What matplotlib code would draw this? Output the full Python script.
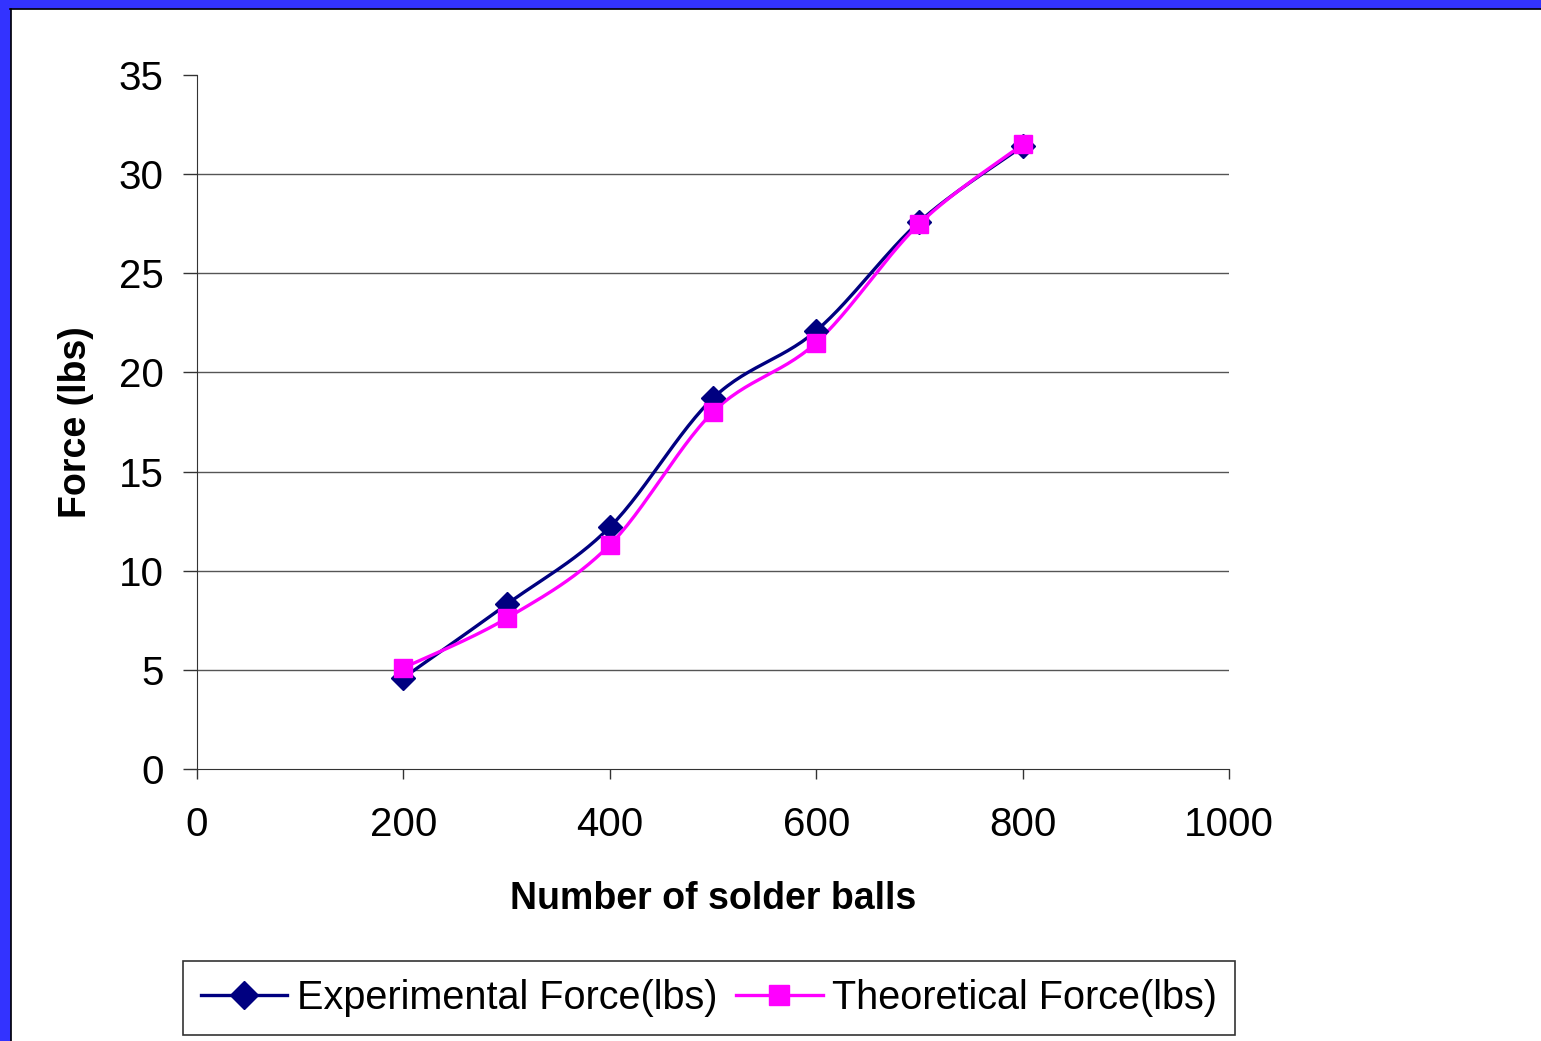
import numpy as np
import matplotlib.pyplot as plt
from matplotlib.patches import Rectangle

plt.rcParams['font.family'] = ['Liberation Sans', 'DejaVu Sans']

balls = [200, 300, 400, 500, 600, 700, 800]
experimental = [4.6, 8.3, 12.2, 18.7, 22.1, 27.6, 31.4]
theoretical = [5.1, 7.6, 11.3, 18.0, 21.5, 27.5, 31.5]


def smooth(x, y, n=30):
    """Excel-style smoothed line (Bezier through the points)."""
    p = np.column_stack([x, y]).astype(float)
    pts = [p[0]]
    for i in range(len(p) - 1):
        p0 = p[i - 1] if i > 0 else p[i]
        p3 = p[i + 2] if i + 2 < len(p) else p[i + 1]
        c1 = p[i] + (p[i + 1] - p0) / 6
        c2 = p[i + 1] - (p3 - p[i]) / 6
        t = np.linspace(0, 1, n)[1:, None]
        seg = ((1 - t) ** 3 * p[i] + 3 * (1 - t) ** 2 * t * c1
               + 3 * (1 - t) * t ** 2 * c2 + t ** 3 * p[i + 1])
        pts.extend(seg)
    pts = np.array(pts)
    return pts[:, 0], pts[:, 1]


fig = plt.figure(figsize=(15.41, 10.41), dpi=100)
# blue frame on top and left
fig.patches.append(Rectangle((0, 1 - 8 / 1041), 1, 8 / 1041, transform=fig.transFigure,
                             color='#3333ff', zorder=0))
fig.patches.append(Rectangle((0, 0), 10 / 1541, 1, transform=fig.transFigure,
                             color='#3333ff', zorder=0))
fig.add_artist(plt.Line2D([10 / 1541, 1], [1 - 9 / 1041, 1 - 9 / 1041],
                          transform=fig.transFigure, color='black', lw=1.2))
fig.add_artist(plt.Line2D([11 / 1541, 11 / 1541], [0, 1 - 9 / 1041],
                          transform=fig.transFigure, color='black', lw=1.2))

ax = fig.add_axes([197 / 1541, 1 - 769 / 1041, 1032 / 1541, 694 / 1041])

sx, sy = smooth(balls, experimental)
ax.plot(sx, sy, color='#000080', lw=2.4, zorder=3)
ax.plot(balls, experimental, ls='none', marker='D', color='#000080', ms=12, zorder=4)
tx, ty = smooth(balls, theoretical)
ax.plot(tx, ty, color='#ff00ff', lw=2.4, zorder=3)
ax.plot(balls, theoretical, ls='none', marker='s', color='#ff00ff', ms=13, zorder=5)

ax.set_xlim(0, 1000)
ax.set_ylim(0, 35)
ax.set_xticks(range(0, 1001, 200))
ax.set_yticks(range(0, 36, 5))
for v in range(5, 35, 5):
    ax.axhline(v, color='#555555', lw=1.0, zorder=1)

ax.spines['top'].set_visible(False)
ax.spines['right'].set_visible(False)
ax.spines['left'].set_color('#333333')
ax.spines['bottom'].set_color('#333333')
ax.tick_params(axis='y', length=10, width=1, labelsize=29, pad=14, color='#333333')
ax.tick_params(axis='x', length=7, width=1, labelsize=29, pad=20, color='#333333')

ax.set_xlabel('Number of solder balls', fontsize=27, fontweight='bold', va='center')
ax.xaxis.set_label_coords(0.5, (769 - 899) / 694)
ax.set_ylabel('Force (lbs)', fontsize=27, fontweight='bold', va='center')
ax.yaxis.set_label_coords((76 - 197) / 1032, 0.5)

h1, = ax.plot([], [], color='#000080', lw=2.4, marker='D', ms=14)
h2, = ax.plot([], [], color='#ff00ff', lw=2.4, marker='s', ms=14)
leg = fig.legend([h1, h2], ['Experimental Force(lbs)', 'Theoretical Force(lbs)'],
                 loc='center', bbox_to_anchor=(709 / 1541, 1 - 998 / 1041), ncol=2,
                 fontsize=28.5, frameon=True, fancybox=False, edgecolor='black',
                 handlelength=2.18, handletextpad=0.25, columnspacing=0.48,
                 borderpad=0.45, borderaxespad=0)
leg.get_frame().set_linewidth(1.2)

fig.savefig('out.png', dpi=100)
